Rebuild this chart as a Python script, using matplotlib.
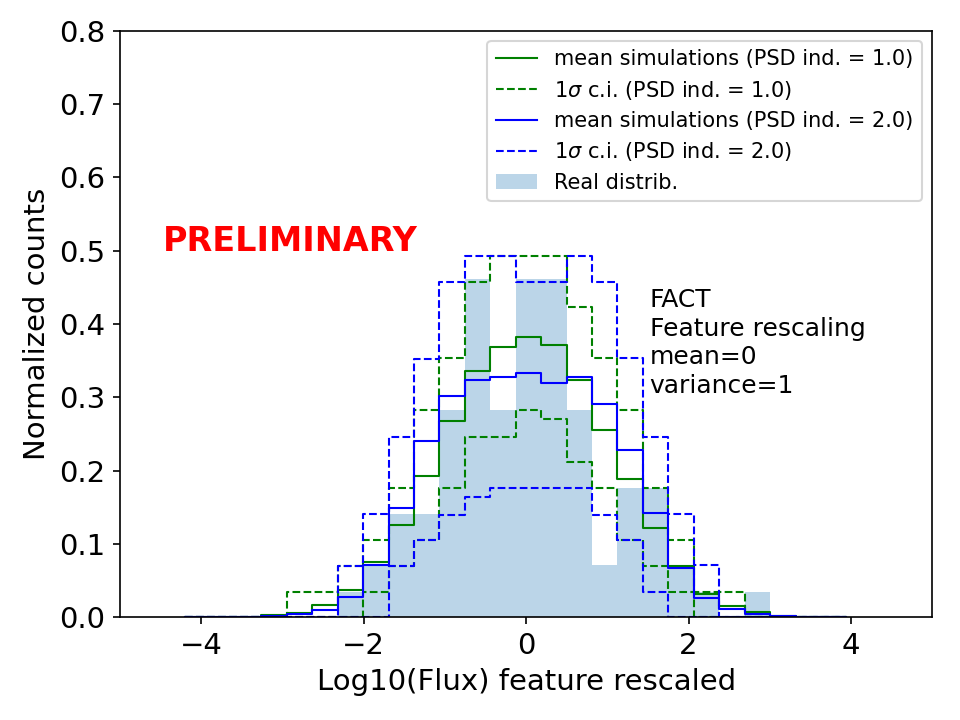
import numpy as np
import matplotlib
matplotlib.use('Agg')
import matplotlib.pyplot as plt
from matplotlib.patches import Patch
from matplotlib.lines import Line2D

# 26 equal-width bins of the rescaled log10(flux)
bin_edges = np.linspace(-4.2, 3.945, 27)

# real distribution (normalized counts per bin)
real_distrib = [0, 0, 0, 0, 0, 0, 0.035, 0.070, 0.141, 0.141, 0.283, 0.461, 0.283,
                0.461, 0.461, 0.283, 0.071, 0.176, 0.176, 0.071, 0.035, 0, 0.035, 0, 0, 0]

# PSD index 1.0: mean and 1 sigma band of the simulations
mean_psd1 = [0.0005, 0.0005, 0.001, 0.003, 0.006, 0.017, 0.037, 0.075, 0.126, 0.193, 0.267,
             0.336, 0.369, 0.382, 0.371, 0.324, 0.255, 0.188, 0.122, 0.070, 0.032, 0.016,
             0.007, 0.002, 0.0005, 0.0003]
upper_psd1 = [0, 0, 0, 0, 0.035, 0.035, 0.070, 0.106, 0.176, 0.282, 0.353, 0.457, 0.493,
              0.493, 0.493, 0.423, 0.353, 0.282, 0.176, 0.105, 0.035, 0.035, 0, 0, 0, 0]
lower_psd1 = [0, 0, 0, 0, 0, 0, 0, 0.035, 0.070, 0.105, 0.176, 0.246, 0.246, 0.282,
              0.270, 0.212, 0.176, 0.105, 0.070, 0.035, 0, 0, 0, 0, 0, 0]

# PSD index 2.0
mean_psd2 = [0.0003, 0.0005, 0.001, 0.002, 0.0045, 0.010, 0.028, 0.072, 0.149, 0.241, 0.302,
             0.324, 0.328, 0.333, 0.319, 0.328, 0.291, 0.228, 0.142, 0.067, 0.027, 0.011,
             0.004, 0.0015, 0.001, 0.0005]
upper_psd2 = [0, 0, 0, 0, 0, 0, 0.070, 0.141, 0.246, 0.352, 0.457, 0.493, 0.493, 0.457,
              0.457, 0.493, 0.457, 0.353, 0.246, 0.141, 0.071, 0, 0, 0, 0, 0]
lower_psd2 = [0, 0, 0, 0, 0, 0, 0, 0, 0.070, 0.105, 0.140, 0.164, 0.176, 0.176, 0.176,
              0.176, 0.140, 0.105, 0.035, 0, 0, 0, 0, 0, 0, 0]


def step(ax, vals, **kw):
    ax.step(bin_edges, np.append(vals, vals[-1]), where='post', **kw)


fig = plt.figure(figsize=(6.4, 4.8), dpi=150)
ax = fig.add_axes([0.125, 0.1426, 0.846, 0.815])

ax.bar(bin_edges[:-1], real_distrib, width=np.diff(bin_edges), align='edge',
       color='C0', alpha=0.3, linewidth=0)

lw = 1.0
step(ax, mean_psd1, color='green', lw=lw)
step(ax, upper_psd1, color='green', lw=lw, ls='--')
step(ax, lower_psd1, color='green', lw=lw, ls='--')
step(ax, mean_psd2, color='blue', lw=lw)
step(ax, upper_psd2, color='blue', lw=lw, ls='--')
step(ax, lower_psd2, color='blue', lw=lw, ls='--')

handles = [
    Line2D([], [], color='green', lw=lw),
    Line2D([], [], color='green', lw=lw, ls='--'),
    Line2D([], [], color='blue', lw=lw),
    Line2D([], [], color='blue', lw=lw, ls='--'),
    Patch(facecolor='C0', alpha=0.3),
]
labels = [
    'mean simulations (PSD ind. = 1.0)',
    r'1$\sigma$ c.i. (PSD ind. = 1.0)',
    'mean simulations (PSD ind. = 2.0)',
    r'1$\sigma$ c.i. (PSD ind. = 2.0)',
    'Real distrib.',
]
ax.legend(handles, labels, loc='upper right', fontsize=10, labelspacing=0.45)

ax.text(-4.47, 0.5, 'PRELIMINARY', color='red', fontsize=16, fontweight='bold')
ax.text(1.52, 0.449, 'FACT\nFeature rescaling\nmean=0\nvariance=1', fontsize=12,
        va='top', linespacing=1.25)

ax.set_xlim(-5, 5)
ax.set_ylim(0, 0.8)
ax.set_xticks([-4, -2, 0, 2, 4])
ax.set_yticks(np.arange(0, 0.81, 0.1))
ax.tick_params(labelsize=14)
ax.set_xlabel('Log10(Flux) feature rescaled', fontsize=14)
ax.set_ylabel('Normalized counts', fontsize=14)

fig.savefig('out.png', dpi=150)
